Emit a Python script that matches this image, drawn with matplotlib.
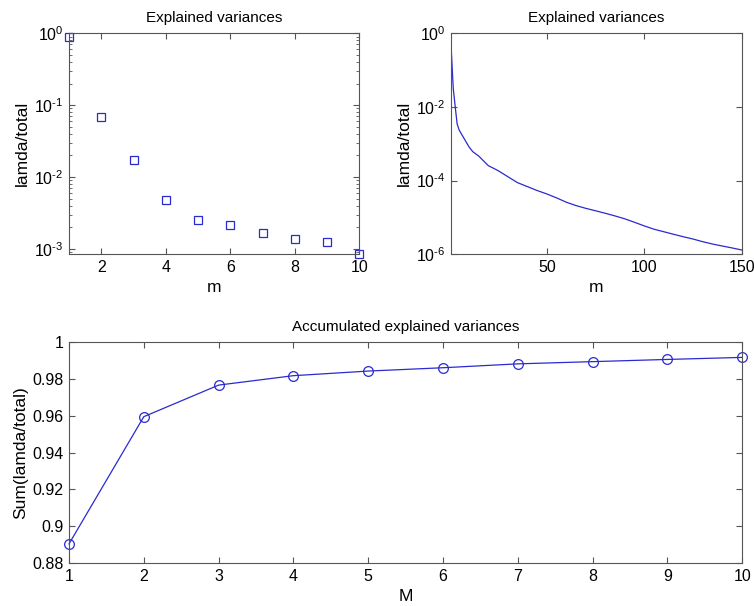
import matplotlib
matplotlib.use("Agg")
import matplotlib.pyplot as plt
from matplotlib.ticker import LogLocator, NullLocator, FormatStrFormatter, FixedLocator, NullFormatter, FuncFormatter
import math

plt.rcParams['font.family'] = ['Liberation Sans', 'DejaVu Sans']
plt.rcParams['mathtext.fontset'] = 'custom'
plt.rcParams['mathtext.rm'] = 'Liberation Sans'
plt.rcParams['mathtext.it'] = 'Liberation Sans'

# ---- data ----
m_first = [1, 2, 3, 4, 5, 6, 7, 8, 9, 10]
ratio_first = [0.88, 0.0681, 0.0172, 0.00474, 0.0025, 0.00215, 0.00167, 0.00138, 0.00126, 0.000843]

m_all = [1, 2, 3, 4, 5, 6, 8, 10, 12, 15, 20, 25, 30, 35, 40, 45, 50, 55, 60, 65, 70,
         75, 80, 85, 90, 95, 100, 105, 110, 115, 120, 125, 130, 135, 140, 145, 150]
ratio_all = [0.338, 0.0321, 0.0102, 0.00345, 0.00238, 0.00193, 0.00127, 0.000838,
             0.000612, 0.000468, 0.000255, 0.000187, 0.000128, 8.8e-5, 6.9e-5, 5.4e-5,
             4.35e-5, 3.4e-5, 2.6e-5, 2.1e-5, 1.77e-5, 1.52e-5, 1.3e-5, 1.1e-5, 9.2e-6,
             7.4e-6, 5.9e-6, 4.8e-6, 4.1e-6, 3.5e-6, 3.0e-6, 2.6e-6, 2.2e-6, 1.9e-6,
             1.68e-6, 1.49e-6, 1.31e-6]

M_vals = [1, 2, 3, 4, 5, 6, 7, 8, 9, 10]
cum_vals = [0.8905, 0.9594, 0.9765, 0.9816, 0.9841, 0.9859, 0.9880, 0.9892, 0.9904, 0.9915]

title_top = "Explained variances"
title_bottom = "Accumulated explained variances"

BLUE = '#2a2ad0'
AXC = '#555555'
W, H = 754, 606
TICK_FS = 11.5
LAB_FS = 12.5
TITLE_FS = 11

fig = plt.figure(figsize=(W / 100, H / 100), dpi=100)

def px_axes(left, top, right, bottom):
    return fig.add_axes([left / W, 1 - bottom / H, (right - left) / W, (bottom - top) / H])

def style(ax):
    for s in ax.spines.values():
        s.set_color(AXC)
        s.set_linewidth(0.8)
    ax.tick_params(which='both', direction='in', top=True, right=True, color=AXC,
                   labelsize=TICK_FS, labelcolor='black', pad=4)
    ax.tick_params(which='major', length=4, width=0.8)
    ax.tick_params(which='minor', length=2, width=0.6)

def pow_fmt(v, pos):
    e = int(round(math.log10(v)))
    es = str(e) if e >= 0 else r'\text{-}' + str(-e)
    return r'$10^{%s}$' % es

# top-left
ax1 = px_axes(69, 33.3, 359.3, 254.3)
ax1.semilogy(m_first, ratio_first, linestyle='none', marker='s', markersize=5.5,
             markerfacecolor='none', markeredgecolor=BLUE, markeredgewidth=0.9, clip_on=False)
ax1.set_xlim(1, 10)
ax1.set_ylim(8.43e-4, 1.0)
ax1.set_xticks([2, 4, 6, 8, 10])
ax1.yaxis.set_major_locator(LogLocator(base=10))
ax1.yaxis.set_major_formatter(FuncFormatter(pow_fmt))
ax1.yaxis.set_minor_locator(LogLocator(base=10, subs=range(2, 10)))
ax1.yaxis.set_minor_formatter(NullFormatter())
style(ax1)
ax1.set_title(title_top, fontsize=TITLE_FS, pad=8)
ax1.set_xlabel('m', fontsize=LAB_FS, labelpad=4)
ax1.set_ylabel('lamda/total', fontsize=LAB_FS, labelpad=3)

# top-right
ax2 = px_axes(451.3, 33.3, 741.7, 254.3)
ax2.semilogy(m_all, ratio_all, color=BLUE, linewidth=0.9)
ax2.set_xlim(1, 150)
ax2.set_ylim(1e-6, 1.0)
ax2.set_xticks([50, 100, 150])
ax2.yaxis.set_major_locator(FixedLocator([1e-6, 1e-4, 1e-2, 1e0]))
ax2.yaxis.set_major_formatter(FuncFormatter(pow_fmt))
ax2.yaxis.set_minor_locator(NullLocator())
style(ax2)
ax2.set_title(title_top, fontsize=TITLE_FS, pad=8)
ax2.set_xlabel('m', fontsize=LAB_FS, labelpad=4)
ax2.set_ylabel('lamda/total', fontsize=LAB_FS, labelpad=3)

# bottom
ax3 = px_axes(69, 341.7, 742.3, 563.3)
ax3.plot(M_vals, cum_vals, color=BLUE, linewidth=0.9, marker='o', markersize=7,
         markerfacecolor='none', markeredgecolor=BLUE, markeredgewidth=0.9, clip_on=False)
ax3.set_xlim(1, 10)
ax3.set_ylim(0.88, 1.0)
ax3.set_xticks(M_vals)
ax3.set_yticks([0.88, 0.9, 0.92, 0.94, 0.96, 0.98, 1.0])
ax3.yaxis.set_major_formatter(FormatStrFormatter('%g'))
style(ax3)
ax3.set_title(title_bottom, fontsize=TITLE_FS, pad=8)
ax3.set_xlabel('M', fontsize=LAB_FS, labelpad=4)
ax3.set_ylabel('Sum(lamda/total)', fontsize=LAB_FS, labelpad=3)

fig.savefig('out.png', dpi=100)
